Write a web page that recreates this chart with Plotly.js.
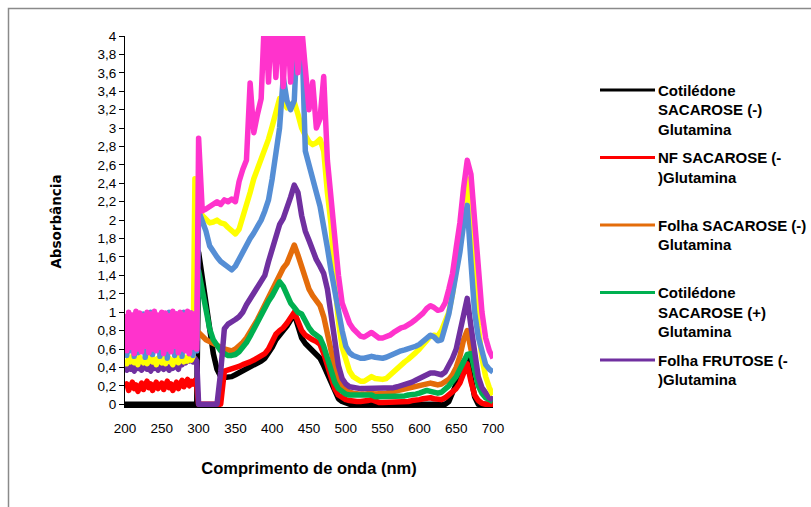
<!DOCTYPE html>
<html>
<head>
<meta charset="utf-8">
<script src="https://cdn.plot.ly/plotly-3.0.1.min.js"></script>
<style>
  html, body { margin: 0; padding: 0; background: #ffffff; }
  #chart { width: 811px; height: 507px; }
  .scatterlayer .js-line { stroke-linejoin: round !important; }
  .legend .js-line { stroke-width: 3px !important; }
</style>
</head>
<body>
<div id="chart"></div>
<script>
// Wavelength grid (nm)
const wl = [200,202.5,205,207.5,210,212.5,215,217.5,220,222.5,225,227.5,230,232.5,235,237.5,240,242.5,245,247.5,250,252.5,255,257.5,260,262.5,265,267.5,270,272.5,275,277.5,280,282.5,285,287.5,290,292.5,295,297.5,300,
  305,310,315,320,325,330,335,340,345,350,355,360,365,370,375,380,385,390,395,400,405,410,415,420,425,430,435,440,445,450,455,460,465,470,475,480,485,490,495,500,
  505,510,515,520,525,530,535,540,545,550,555,560,565,570,575,580,585,590,595,600,605,610,615,620,625,630,635,640,645,650,655,660,665,670,675,680,685,690,695,700];

// Series names (legend)
const names = [
  "Cotilédone<br>SACAROSE (-)<br>Glutamina",
  "NF SACAROSE (-<br>)Glutamina<br>\u00a0",
  "Folha SACAROSE (-)<br>Glutamina<br>\u00a0",
  "Cotilédone<br>SACAROSE (+)<br>Glutamina",
  "Folha FRUTOSE (-<br>)Glutamina",
  "Série 6",
  "Série 7",
  "Série 8"
];

// Absorbance values
const cotSacNeg = [0,0,0,0,0,0,0,0,0,0,0,0,0,0,0,0,0,0,0,0,0,0,0,0,0,0,0,0,0,0,0,0,0,0,0,0,0,0,0,0,1.65,
  1.35,1.08,0.78,0.55,0.38,0.3,0.29,0.29,0.3,0.32,0.34,0.36,0.38,0.4,0.42,0.45,0.47,0.5,0.55,0.62,0.7,0.76,0.8,0.85,0.92,0.98,0.85,0.72,0.66,0.62,0.58,0.55,0.5,0.42,0.33,0.22,0.12,0.06,0.03,0.01,
  0,0,0,0,0,0,0,0,0,0,0,0,0,0,0,0,0,0,0,0,0,0,0,0,0,0,0,0.03,0.12,0.22,0.35,0.46,0.51,0.3,0.08,0,0,0,0,0];

const nfSacNeg = [0.18,0.22,0.15,0.2,0.24,0.17,0.21,0.14,0.19,0.23,0.16,0.2,0.25,0.18,0.22,0.15,0.21,0.24,0.17,0.2,0.23,0.16,0.21,0.25,0.18,0.22,0.15,0.2,0.24,0.17,0.22,0.26,0.19,0.23,0.27,0.2,0.25,0.22,0.26,0.2,0,
  0,0,0,0,0,0,0.36,0.37,0.38,0.39,0.41,0.43,0.44,0.46,0.48,0.5,0.52,0.55,0.6,0.68,0.76,0.8,0.83,0.88,0.94,1.0,0.9,0.8,0.75,0.72,0.7,0.68,0.65,0.55,0.42,0.28,0.17,0.1,0.07,0.05,
  0.04,0.03,0.03,0.03,0.03,0.04,0.05,0.03,0.02,0.02,0.02,0.02,0.02,0.03,0.03,0.03,0.03,0.04,0.04,0.05,0.06,0.07,0.07,0.06,0.05,0.05,0.07,0.1,0.13,0.17,0.23,0.35,0.44,0.25,0.1,0.04,0.01,0,0,0];

const folhaSacNeg = [0.9,0.62,0.95,0.66,0.92,0.6,0.97,0.64,0.9,0.61,0.94,0.67,0.96,0.6,0.91,0.65,0.98,0.62,0.93,0.66,0.95,0.6,0.9,0.63,0.97,0.61,0.94,0.66,0.92,0.6,0.96,0.64,0.9,0.62,0.95,0.67,0.93,0.61,0.97,0.7,0.78,
  0.73,0.7,0.68,0.66,0.63,0.61,0.6,0.59,0.58,0.6,0.63,0.67,0.72,0.78,0.85,0.92,1.0,1.08,1.17,1.25,1.33,1.42,1.48,1.53,1.62,1.73,1.62,1.48,1.35,1.25,1.18,1.12,1.07,0.95,0.75,0.55,0.4,0.28,0.2,0.16,
  0.13,0.12,0.11,0.11,0.11,0.12,0.12,0.11,0.11,0.12,0.12,0.13,0.14,0.15,0.16,0.17,0.18,0.19,0.2,0.21,0.22,0.23,0.23,0.22,0.21,0.22,0.24,0.27,0.32,0.4,0.52,0.7,0.8,0.58,0.4,0.25,0.15,0.1,0.07,0.05];

const cotSacPos = [0.93,0.6,0.9,0.65,0.96,0.62,0.92,0.58,0.95,0.64,0.91,0.6,0.97,0.63,0.94,0.59,0.9,0.66,0.96,0.61,0.93,0.64,0.98,0.6,0.92,0.65,0.95,0.62,0.9,0.6,0.94,0.66,0.97,0.61,0.92,0.64,0.95,0.6,0.9,0.7,1.45,
  1.25,1.05,0.82,0.7,0.63,0.58,0.55,0.53,0.53,0.54,0.57,0.61,0.67,0.74,0.82,0.9,0.98,1.05,1.12,1.18,1.25,1.33,1.28,1.18,1.1,1.05,1.0,0.98,0.9,0.83,0.78,0.75,0.72,0.63,0.5,0.35,0.24,0.17,0.13,0.11,
  0.1,0.1,0.09,0.09,0.09,0.09,0.1,0.08,0.08,0.08,0.08,0.08,0.08,0.08,0.09,0.09,0.1,0.1,0.11,0.12,0.14,0.15,0.14,0.13,0.12,0.13,0.16,0.2,0.25,0.3,0.38,0.47,0.54,0.55,0.38,0.2,0.12,0.07,0.05,0.03];

const folhaFruNeg = [0.4,0.37,0.43,0.38,0.41,0.36,0.44,0.39,0.42,0.37,0.4,0.45,0.38,0.41,0.36,0.43,0.39,0.42,0.37,0.44,0.4,0.38,0.43,0.41,0.37,0.42,0.39,0.44,0.4,0.38,0.46,0.43,0.48,0.45,0.5,0.47,0.49,0.46,0.5,0.47,0,
  0,0,0,0,0,0.35,0.82,0.87,0.89,0.92,0.95,1.0,1.08,1.14,1.2,1.27,1.33,1.4,1.55,1.68,1.82,1.95,2.02,2.12,2.25,2.38,2.3,2.05,1.88,1.78,1.66,1.57,1.5,1.42,1.25,0.98,0.65,0.42,0.28,0.22,
  0.19,0.18,0.17,0.17,0.17,0.17,0.18,0.17,0.17,0.17,0.17,0.18,0.18,0.19,0.2,0.21,0.22,0.24,0.26,0.28,0.3,0.33,0.34,0.34,0.33,0.32,0.35,0.42,0.5,0.6,0.78,1.0,1.15,0.85,0.52,0.3,0.18,0.11,0.07,0.05];

const serie6 = [0.48,0.44,0.5,0.46,0.52,0.45,0.49,0.43,0.51,0.47,0.45,0.5,0.44,0.48,0.52,0.46,0.49,0.43,0.5,0.47,0.45,0.51,0.44,0.48,0.5,0.46,0.43,0.49,0.52,0.45,0.48,0.5,0.46,0.51,0.47,0.5,0.48,0.52,2.45,2.3,2.15,
  2.05,2.0,1.97,1.98,2.0,1.97,1.96,1.92,1.88,1.85,1.9,2.02,2.14,2.3,2.45,2.55,2.65,2.78,2.88,3.02,3.2,3.32,3.3,3.22,3.25,3.28,3.15,3.0,2.92,2.85,2.82,2.84,2.88,2.75,2.3,1.95,1.35,0.9,0.62,0.46,
  0.36,0.3,0.27,0.25,0.25,0.28,0.3,0.28,0.27,0.27,0.28,0.32,0.36,0.4,0.43,0.46,0.49,0.52,0.56,0.6,0.65,0.7,0.74,0.75,0.74,0.8,0.9,1.0,1.2,1.45,1.75,2.15,2.45,2.1,1.4,0.85,0.5,0.3,0.18,0.1];

const serie7 = [0.97,0.53,0.99,0.58,0.95,0.52,1.0,0.56,0.96,0.6,0.98,0.51,0.94,0.57,1.0,0.54,0.97,0.59,0.95,0.52,0.99,0.56,0.96,0.5,1.0,0.58,0.94,0.53,0.98,0.57,0.96,0.52,1.0,0.6,0.95,0.55,0.99,0.53,0.97,0.58,2.1,
  2.0,1.88,1.72,1.65,1.6,1.55,1.52,1.48,1.46,1.5,1.58,1.66,1.73,1.8,1.86,1.92,2.0,2.1,2.22,2.45,2.7,3.0,3.55,3.3,3.2,3.3,4.2,4.1,2.75,2.58,2.45,2.3,2.15,1.95,1.7,1.45,1.22,1.0,0.8,0.63,
  0.56,0.53,0.51,0.5,0.5,0.51,0.52,0.51,0.5,0.5,0.51,0.53,0.55,0.57,0.58,0.59,0.6,0.61,0.63,0.65,0.68,0.72,0.75,0.73,0.69,0.7,0.82,0.98,1.2,1.42,1.65,1.95,2.16,1.55,1.0,0.73,0.55,0.43,0.38,0.35];

const serie8 = [0.98,0.58,1.0,0.62,0.97,0.55,1.01,0.6,0.99,0.57,0.96,0.63,1.0,0.56,0.98,0.6,1.01,0.58,0.97,0.62,1.0,0.55,0.99,0.6,0.96,0.57,1.01,0.63,0.98,0.56,1.0,0.6,0.97,0.58,1.01,0.55,0.99,0.62,0.98,0.6,2.89,
  2.1,2.12,2.15,2.17,2.2,2.17,2.22,2.2,2.23,2.2,2.42,2.55,2.65,3.49,2.95,3.15,3.32,4.3,3.5,4.3,3.55,4.3,3.45,4.3,3.5,4.3,3.6,4.1,3.55,3.2,3.5,3.0,3.1,3.56,2.65,2.2,1.75,1.4,1.1,0.98,
  0.88,0.82,0.77,0.74,0.73,0.76,0.78,0.75,0.72,0.72,0.73,0.75,0.78,0.81,0.83,0.84,0.86,0.89,0.92,0.95,0.99,1.04,1.07,1.05,1.02,1.03,1.1,1.25,1.42,1.7,1.97,2.35,2.65,2.5,2.0,1.45,1.0,0.72,0.58,0.5];

// Axis ticks
const xTicks = [200,250,300,350,400,450,500,550,600,650,700];
const xTickText = ["200","250","300","350","400","450","500","550","600","650","700"];
const yTicks = [0,0.2,0.4,0.6,0.8,1,1.2,1.4,1.6,1.8,2,2.2,2.4,2.6,2.8,3,3.2,3.4,3.6,3.8,4];
const yTickText = ["0","0,2","0,4","0,6","0,8","1","1,2","1,4","1,6","1,8","2","2,2","2,4","2,6","2,8","3","3,2","3,4","3,6","3,8","4"];

const seriesList = [cotSacNeg, nfSacNeg, folhaSacNeg, cotSacPos, folhaFruNeg, serie6, serie7, serie8];
const colors = ["#000000", "#FF0000", "#E46C0A", "#00B050", "#7030A0", "#FFFF00", "#558ED5", "#FF33CC"];

seriesList.forEach((s, i) => {
  if (s.length !== wl.length) throw new Error("series " + i + " length " + s.length + " vs " + wl.length);
});

const traces = seriesList.map((s, i) => ({
  type: "scatter",
  mode: "lines",
  x: wl,
  y: s,
  name: names[i],
  legendgroup: "g" + i,
  showlegend: i < 5,
  line: { color: colors[i], width: 5.5 },
  hoverinfo: "skip"
}));

const W = 811, H = 507;
const mL = 125, mR = 318, mT = 36, mB = 100.2;
const plotW = W - mL - mR, plotH = H - mT - mB;
const px2paperX = (px) => (px - mL) / plotW;
const px2paperY = (py) => (H - mB - py) / plotH;

const layout = {
  width: W,
  height: H,
  margin: { l: mL, r: mR, t: mT, b: mB, pad: 0, autoexpand: false },
  paper_bgcolor: "#ffffff",
  plot_bgcolor: "#ffffff",
  showlegend: true,
  font: { family: "Liberation Sans, Arial, sans-serif", color: "#000000" },
  xaxis: {
    range: [200, 700],
    tickvals: xTicks,
    ticktext: xTickText,
    ticks: "",
    ticklabelstandoff: 9,
    showline: true,
    linecolor: "#000000",
    linewidth: 1,
    showgrid: false,
    zeroline: false,
    tickfont: { family: "Liberation Sans", size: 13.5, color: "#000000" },
    title: {
      text: "Comprimento de onda (nm)",
      font: { family: "Liberation Sans", size: 16.5, color: "#000000", weight: "bold" },
      standoff: 27
    }
  },
  yaxis: {
    range: [-0.03, 4],
    tickvals: yTicks,
    ticktext: yTickText,
    ticks: "outside",
    ticklen: 5,
    tickwidth: 1,
    tickcolor: "#000000",
    showline: true,
    linecolor: "#000000",
    linewidth: 1,
    showgrid: false,
    zeroline: false,
    tickfont: { family: "Liberation Sans", size: 13.5, color: "#000000" },
    title: {
      text: "Absorbância",
      font: { family: "DejaVu Sans", size: 13.5, color: "#000000", weight: "bold" },
      standoff: 32
    }
  },
  legend: {
    x: px2paperX(595),
    y: px2paperY(73.75),
    xanchor: "left",
    yanchor: "top",
    valign: "top",
    traceorder: "grouped",
    tracegroupgap: 6,
    itemwidth: 53,
    bgcolor: "rgba(0,0,0,0)",
    borderwidth: 0,
    font: { family: "Liberation Sans", size: 15, color: "#000000", weight: "bold" }
  },
  shapes: [{
    type: "rect",
    xref: "paper",
    yref: "paper",
    x0: px2paperX(8.5),
    x1: px2paperX(830),
    y0: px2paperY(520),
    y1: px2paperY(8.5),
    line: { color: "#8a8a8a", width: 1.5 },
    fillcolor: "rgba(0,0,0,0)",
    layer: "above"
  }]
};

Plotly.newPlot("chart", traces, layout, { displayModeBar: false, staticPlot: true }).then(function (gd) {
  // lengthen legend line samples to match the original legend keys
  gd.querySelectorAll(".legend .traces path.js-line").forEach(function (p) {
    p.setAttribute("d", "M5,0h55");
  });
});
</script>
</body>
</html>
